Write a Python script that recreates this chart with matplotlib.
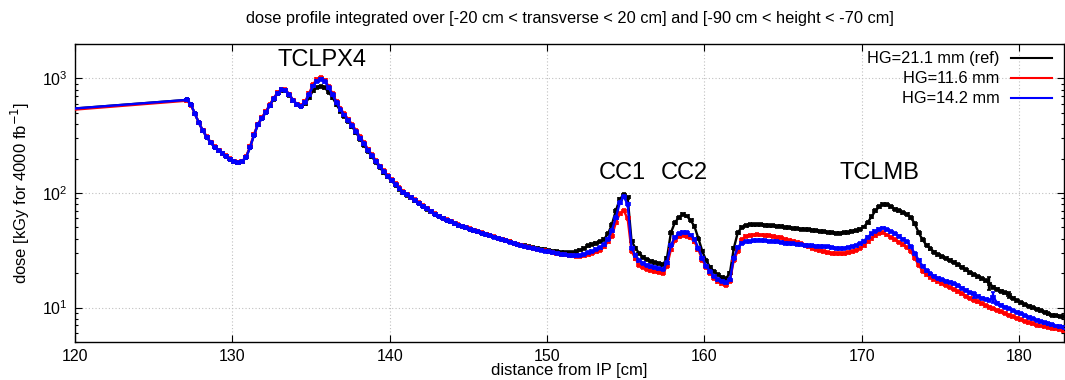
import numpy as np
import matplotlib
matplotlib.use("Agg")
import matplotlib.pyplot as plt
from matplotlib.ticker import LogLocator, FixedLocator, NullFormatter

plt.rcParams['font.family'] = ['Liberation Sans', 'DejaVu Sans']

# ---------------- data ----------------
title = "dose profile integrated over [-20 cm < transverse < 20 cm] and [-90 cm < height < -70 cm]"
xlabel = "distance from IP [cm]"
ylabel = "dose [kGy for 4000 fb$^{-1}$]"
series_labels = ["HG=21.1 mm (ref)", "HG=11.6 mm", "HG=14.2 mm"]
series_colors = ["#000000", "#ff0000", "#0000ff"]

bin_start = 127.0
bin_width = 0.25
n_bins = 224

# value at the left edge of the plot (x = 120 cm)
first_x = 120.0
first_values = [547, 535, 547]   # ref, 11.6, 14.2

dose_ref = [
    650, 590, 490, 410,   350, 308, 275, 252,   235, 222, 210, 198,   188, 184, 188, 205,
    250, 320, 395, 450,   505, 580, 660, 740,   790, 785, 715, 640,   590, 570, 600, 680,
    780, 840, 850, 830,   760, 680, 590, 520,   470, 425, 378, 335,   296, 262, 232, 207,
    186, 167, 151, 138,   128, 117, 108, 101,   96, 91, 86, 81,      76.5, 72.5, 68.5, 65.5,
    62.5, 60, 58, 56,     54, 52.5, 51, 49.6,   48.3, 47, 45.8, 44.6, 43.5, 42.4, 41.3, 40.3,
    39.3, 38.3, 37.4, 36.6, 35.8, 35.1, 34.5, 34.0, 33.4, 32.9, 32.4, 31.9, 31.4, 31.0, 30.6, 30.3,
    30.1, 30.0, 30.2, 30.8, 31.8, 33.0, 34.5, 35.7, 36.6, 37.5, 39.5, 44,  53, 70, 88, 97,
    92, 38, 33, 29.5,     27.5, 26.2, 25.3, 24.6, 24.1, 23.7, 27, 45,   55, 61, 65, 63,
    58, 51, 40, 31,       25.5, 22.5, 20.5, 19.3, 18.4, 17.9, 20, 33,   45, 50, 52, 53,
    53, 53, 52.8, 52.5,   52, 51.7, 51.3, 51,   50.3, 49.7, 49.2, 48.8, 48.5, 48.1, 47.7, 47.3,
    46.8, 46.3, 45.8, 45.3, 45, 44.7, 44.6, 44.8, 45.3, 46.2, 47, 48.2, 50.5, 55, 62, 70,
    76, 80, 79, 76,       72, 70, 67.5, 65,     61, 54, 45, 39,       35, 32.5, 30.5, 29,
    27.8, 26.8, 25.8, 24.8, 23.6, 22.5, 21.3, 20.2, 19.4, 18.6, 17.9, 17.2, 16.2, 15.1, 14.5, 13.9,
    13.4, 12.9, 12.1, 11.5, 11.0, 10.6, 10.3, 10.0, 9.7, 9.4, 9.1, 8.8,  8.6, 8.5, 8.4, 8.3,
]

dose_116 = [
    640, 585, 490, 410,   352, 310, 277, 254,   237, 223, 211, 199,   189, 185, 190, 208,
    255, 325, 400, 458,   515, 590, 675, 755,   805, 800, 730, 645,   595, 580, 630, 740,
    885, 990, 1015, 970,  850, 735, 625, 545,   490, 442, 395, 350,   310, 274, 242, 215,
    192, 172, 156, 142,   131, 120, 111, 103,   97.5, 92, 87, 82,    77.5, 73.5, 69.5, 66,
    63, 60.5, 58.5, 56.5, 54.5, 53, 51.5, 50,   48.6, 47.3, 46, 44.8,  43.6, 42.5, 41.4, 40.3,
    39.3, 38.3, 37.4, 36.5, 35.7, 34.9, 34.2, 33.6, 33, 32.4, 31.8, 31.2, 30.6, 30.1, 29.6, 29.2,
    28.8, 28.5, 28.2, 28.0, 28.1, 28.4, 29.0, 29.7, 30.6, 31.5, 33.8, 37.5, 42, 55, 66, 70,
    60, 31, 26.6, 23.5,   22.4, 21.6, 21.0, 20.6, 20.3, 19.9, 23, 32,   38.5, 41.5, 42.5, 42,
    40.5, 37.5, 32, 26,   22.5, 20, 18, 16.8,   16.1, 15.6, 17, 26,   31, 39, 42, 42.5,
    43, 43.2, 43, 42.7,   42.3, 41.8, 41.2, 40.5, 39.5, 38.6, 37.8, 37, 36, 35, 34, 33,
    32.2, 31.4, 30.8, 30.2, 29.8, 29.5, 29.4, 29.6, 30, 30.6, 31.5, 32.8, 34.8, 37.5, 40, 42.5,
    44.5, 45, 43, 41,     39, 37.3, 35.5, 33.5, 31, 27, 23.5, 20.8,  19.3, 18.3, 17.5, 16.8,
    16.2, 15.6, 15, 14.4, 13.8, 13.2, 12.6, 12.1, 11.6, 11.2, 10.8, 10.4, 10.1, 9.8, 9.5, 9.2,
    8.9, 8.6, 8.3, 8.1,   7.8, 7.6, 7.4, 7.2,   7.0, 6.9, 6.8, 6.7,   6.6, 6.5, 6.4, 6.3,
]

dose_142 = [
    650, 590, 490, 410,   350, 308, 275, 252,   235, 222, 210, 198,   188, 184, 188, 205,
    250, 320, 395, 450,   505, 580, 665, 745,   795, 790, 720, 640,   590, 575, 620, 720,
    860, 950, 980, 940,   830, 720, 615, 535,   480, 432, 385, 342,   302, 268, 237, 211,
    189, 170, 154, 140,   129, 118, 109, 102,   96.5, 91.5, 86.5, 81.5, 77, 73, 69, 65.5,
    62.5, 60, 58, 56,     54, 52.5, 51, 49.6,   48.3, 47, 45.8, 44.6,  43.4, 42.3, 41.2, 40.2,
    39.2, 38.2, 37.2, 36.3, 35.5, 34.7, 34.0, 33.4, 32.8, 32.2, 31.6, 31.1, 30.6, 30.1, 29.7, 29.3,
    29.0, 28.7, 28.4, 28.3, 28.6, 29.2, 30.0, 31.0, 32.2, 33.4, 35.5, 39.5, 47, 61, 82, 93,
    80, 33, 28.5, 25.7,   24.3, 23.3, 22.7, 22.2, 21.8, 21.6, 24.5, 35,  41, 44, 45.5, 45,
    43, 39.5, 33, 27,     23, 20.5, 18.8, 17.5, 17.0, 16.4, 17.5, 27,  33.5, 36.5, 37.5, 38,
    38.3, 38.5, 38.5, 38.3, 38, 37.8, 37.4, 37, 36.6, 36.2, 35.9, 35.6, 35.3, 35, 34.8, 34.6,
    34.4, 34.2, 34, 33.8, 33.4, 33, 32.7, 32.9, 33.3, 34, 34.8, 36,   38, 41, 44, 46.5,
    48.5, 49.5, 48, 46,   44, 42, 39.5, 37.5,   34, 29.5, 26, 23,      21, 19.8, 18.8, 18,
    17.5, 17, 16.6, 16.1, 15.5, 14.8, 14.1, 13.5, 13.0, 12.5, 12.1, 11.8, 11.6, 12.3, 10.9, 10.5,
    10.1, 9.8, 9.4, 9.1,  8.8, 8.5, 8.2, 7.95,  7.75, 7.55, 7.35, 7.2, 7.05, 6.9, 6.8, 6.7,
]

# statistical errors: typical relative error per series, plus a few larger ones (bin center -> abs. error)
rel_errors = [0.03, 0.03, 0.03]
large_errors = [
    {178.125: 2.1, 179.375: 0.9},
    {},
    {177.125: 0.8, 178.375: 1.3},
]

annotations = ["TCLPX4", "CC1", "CC2", "TCLMB"]
annot_x = [135.73, 154.77, 158.71, 171.1]
annot_y = [1436, 151, 151, 151]

# ---------------- figure ----------------
W, H = 1065, 380
fig = plt.figure(figsize=(W / 100, H / 100), dpi=100)
ax_l, ax_r, ax_t, ax_b = 75, 1064, 44, 342
ax = fig.add_axes([ax_l / W, 1 - ax_b / H, (ax_r - ax_l) / W, (ax_b - ax_t) / H])

centers = bin_start + bin_width * (np.arange(n_bins) + 0.5)
all_series = [dose_ref, dose_116, dose_142]

for vals, first, color, rel, big in zip(all_series, first_values, series_colors, rel_errors, large_errors):
    vals = np.asarray(vals, dtype=float)
    err = vals * rel
    for xc, e in big.items():
        idx = int(round((xc - bin_start) / bin_width - 0.5))
        err[idx] = e
    ax.plot(np.r_[first_x, centers], np.r_[first, vals], color=color, lw=1.7, zorder=3)
    ax.errorbar(centers, vals, xerr=bin_width / 2, yerr=err, fmt='none', ecolor=color,
                elinewidth=1.7, capsize=1.3, capthick=1.2, zorder=3)

ax.set_yscale('log')
ax.set_xlim(120, 120 + (ax_r - ax_l) / 15.733)
ax.set_ylim(5, 2000)
ax.xaxis.set_major_locator(FixedLocator([120, 130, 140, 150, 160, 170, 180]))
ax.yaxis.set_major_locator(LogLocator(base=10, numticks=10))
ax.yaxis.set_minor_locator(LogLocator(base=10, subs=np.arange(2, 10), numticks=20))
ax.yaxis.set_minor_formatter(NullFormatter())
ax.tick_params(which='both', direction='in', top=True, right=True, labelsize=11.5, width=0.8)
ax.tick_params(which='major', length=5, pad=5)
ax.tick_params(which='minor', length=2.5)
ax.grid(True, which='major', linestyle=(0, (1, 2)), color='#c0c0c0', lw=0.8)
for s in ax.spines.values():
    s.set_linewidth(1.0)

ax.set_xlabel(xlabel, fontsize=12)
ax.xaxis.set_label_coords(0.5, -0.072)
ax.set_ylabel(ylabel, fontsize=12)
ax.yaxis.set_label_coords(-0.0556, 0.5)
ax.yaxis.label.set_va('center')

fig.text((ax_l + ax_r) / 2 / W, 1 - 18 / H, title, ha='center', va='center', fontsize=11.8)

for name, xa, ya in zip(annotations, annot_x, annot_y):
    ax.text(xa, ya, name, ha='center', va='center', fontsize=17)

# key (top right, text right-aligned, sample line to the right)
key_rows_px = [58.3, 78.3, 98.3]
for lab, color, ypx in zip(series_labels, series_colors, key_rows_px):
    yf = (ax_b - ypx) / (ax_b - ax_t)
    ax.text((999.5 - ax_l) / (ax_r - ax_l), yf, lab, transform=ax.transAxes,
            ha='right', va='center', fontsize=11.8)
    ax.plot([(1011 - ax_l) / (ax_r - ax_l), (1052 - ax_l) / (ax_r - ax_l)], [yf, yf],
            transform=ax.transAxes, color=color, lw=1.5, zorder=4)

fig.savefig("out.png", dpi=100)
